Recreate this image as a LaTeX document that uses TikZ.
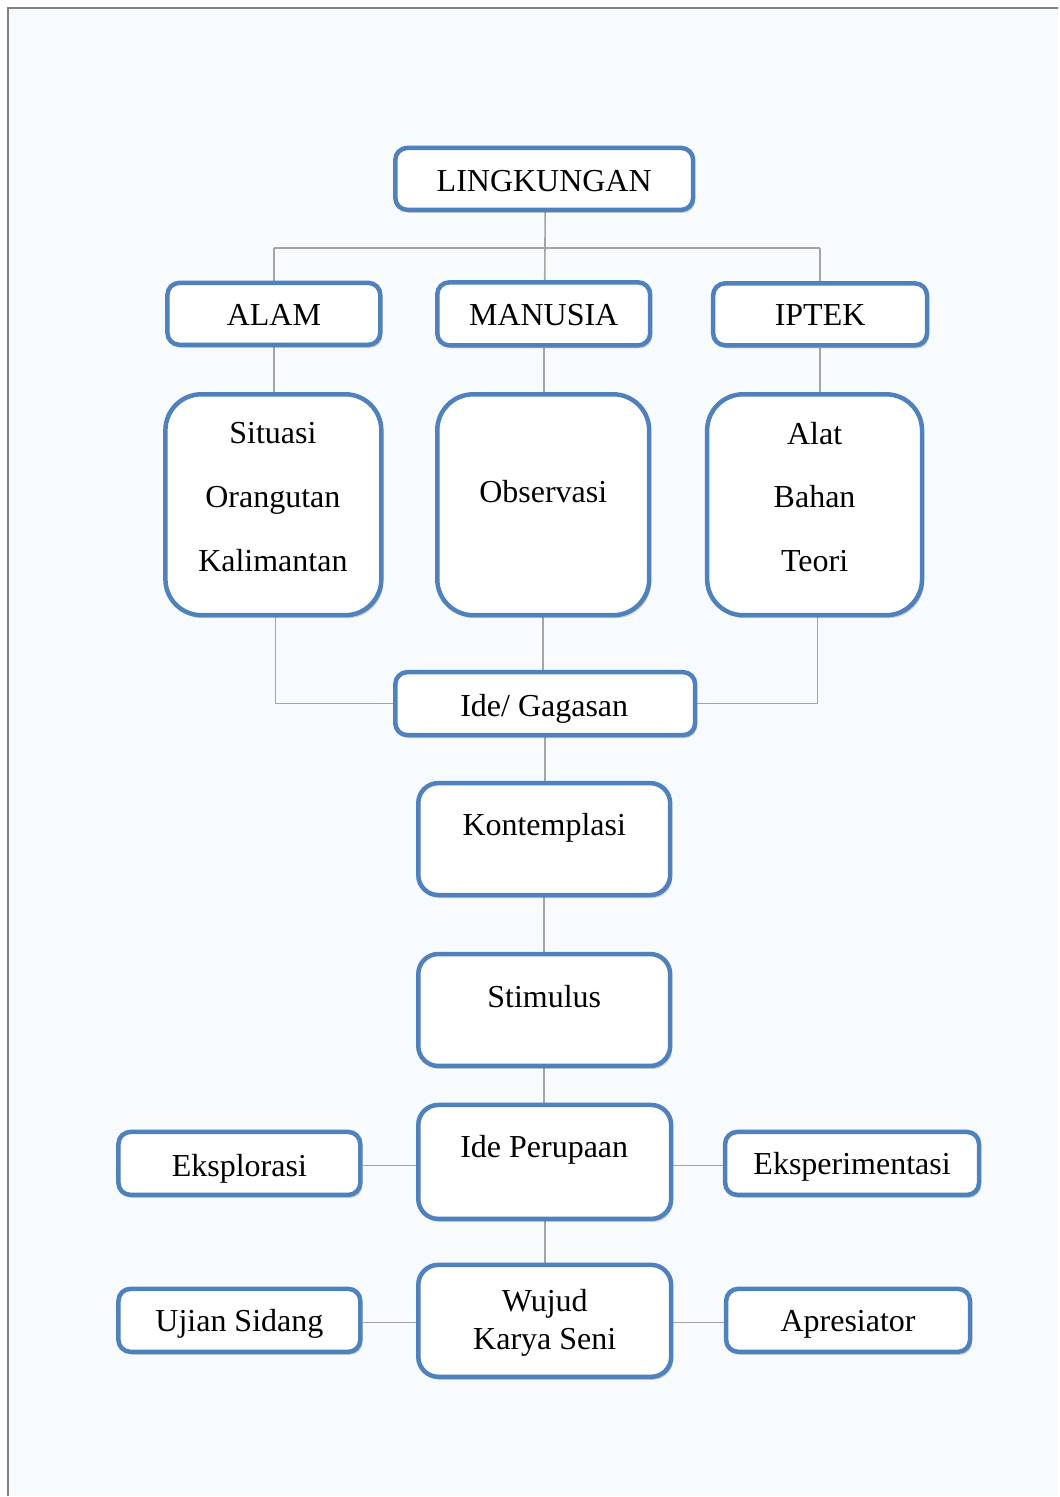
\documentclass[tikz,border=0pt]{standalone}
\usepackage{fontspec}
\setmainfont{Liberation Serif}
\usetikzlibrary{shadows,backgrounds}
\definecolor{boxblue}{RGB}{79,129,189}
\definecolor{linegray}{RGB}{165,165,165}
\definecolor{pagebg}{RGB}{248,251,253}
\definecolor{pageline}{RGB}{128,128,128}
\tikzset{
  box/.style={draw=boxblue, line width=4.5pt, fill=white, rounded corners=12pt,
    inner sep=0pt, drop shadow={shadow xshift=2pt, shadow yshift=-3pt, fill=black, opacity=0.18}},
  tallbox/.style={box, rounded corners=20pt},
  bigbox/.style={box, rounded corners=36pt},
  lbl/.style={anchor=base, inner sep=0pt, font=\fontsize{32}{38}\selectfont},
  conn/.style={draw=linegray, line width=1.6pt}
}
\begin{document}
\begin{tikzpicture}[x=1pt,y=-1pt]
\begin{pgfonlayer}{background}
  \fill[white] (0,0) rectangle (1059,1497);
  \fill[pagebg] (8,8) rectangle (1059,1497);
  \draw[pageline, line width=1.5pt] (8,1497) -- (8,8) -- (1059,8);
\end{pgfonlayer}
\useasboundingbox (0,0) rectangle (1059,1497);

% boxes
\node[box, minimum width=298pt, minimum height=62pt] (ling) at (544.5,179) {};
\node[box, minimum width=213pt, minimum height=62pt] (alam) at (274,314) {};
\node[box, minimum width=213pt, minimum height=63pt] (manusia) at (544,314) {};
\node[box, minimum width=214pt, minimum height=62pt] (iptek) at (820.5,314.5) {};
\node[bigbox, minimum width=216pt, minimum height=221pt] (situasi) at (273.5,505) {};
\node[bigbox, minimum width=212pt, minimum height=221pt] (observasi) at (543.5,505) {};
\node[bigbox, minimum width=215pt, minimum height=221pt] (alat) at (815,505) {};
\node[box, minimum width=300pt, minimum height=63pt] (ide) at (545.5,704) {};
\node[tallbox, minimum width=252pt, minimum height=112pt] (kontemplasi) at (544.5,839.5) {};
\node[tallbox, minimum width=252pt, minimum height=112pt] (stimulus) at (544.5,1010.5) {};
\node[tallbox, minimum width=253pt, minimum height=114pt] (ideper) at (545,1162.5) {};
\node[box, minimum width=242pt, minimum height=63pt] (eksplorasi) at (239.5,1164) {};
\node[box, minimum width=254pt, minimum height=63pt] (eksper) at (852.5,1164) {};
\node[tallbox, minimum width=253pt, minimum height=112pt] (wujud) at (545,1321.5) {};
\node[box, minimum width=242pt, minimum height=63pt] (ujian) at (239.5,1321) {};
\node[box, minimum width=244pt, minimum height=63pt] (apres) at (848.5,1321) {};

% labels
\node[lbl] (tling) at (544.5,192) {LINGKUNGAN};
\node[lbl] (talam) at (274,326) {ALAM};
\node[lbl] (tmanusia) at (544,326) {MANUSIA};
\node[lbl] (tiptek) at (820.5,326) {IPTEK};
\node[lbl] (tsit1) at (273,444) {Situasi};
\node[lbl] (tsit2) at (273,508) {Orangutan};
\node[lbl] (tsit3) at (273,572) {Kalimantan};
\node[lbl] (tobs) at (543.5,503) {Observasi};
\node[lbl] (talat1) at (815,445) {Alat};
\node[lbl] (talat2) at (815,508) {Bahan};
\node[lbl] (talat3) at (815,572) {Teori};
\node[lbl] (tide) at (544.5,717) {Ide/ Gagasan};
\node[lbl] (tkont) at (544.5,836) {Kontemplasi};
\node[lbl] (tstim) at (544.5,1008) {Stimulus};
\node[lbl] (tideper) at (544.5,1158) {Ide Perupaan};
\node[lbl] (teksp) at (239.5,1177) {Eksplorasi};
\node[lbl] (teksper) at (852.5,1175) {Eksperimentasi};
\node[lbl] (twujud1) at (545,1312) {Wujud};
\node[lbl] (twujud2) at (545,1350) {Karya Seni};
\node[lbl] (tujian) at (239.5,1332) {Ujian Sidang};
\node[lbl] (tapres) at (848.5,1332) {Apresiator};

% connectors
\coordinate (jtop) at (545,248);
\begin{pgfonlayer}{background}
  \draw[conn] ([xshift=1pt]ling.south) -- ([xshift=1pt]manusia.north);
  \draw[conn] (alam.north |- jtop) -- (iptek.north |- jtop);
  \draw[conn] (alam.north |- jtop) -- (alam.north);
  \draw[conn] (iptek.north |- jtop) -- (iptek.north);
  \draw[conn] (alam.south) -- (alam.south |- situasi.north);
  \draw[conn] (manusia.south) -- (manusia.south |- observasi.north);
  \draw[conn] (iptek.south) -- (iptek.south |- alat.north);
  \draw[conn] ([xshift=2pt]situasi.south) |- (ide.west);
  \draw[conn] ([xshift=3pt]alat.south) |- (ide.east);
  \draw[conn] (observasi.south) -- (observasi.south |- ide.north);
  \draw[conn] (ide.south) -- (ide.south |- kontemplasi.north);
  \draw[conn] (kontemplasi.south) -- (kontemplasi.south |- stimulus.north);
  \draw[conn] (stimulus.south) -- (stimulus.south |- ideper.north);
  \draw[conn] (ideper.south) -- (ideper.south |- wujud.north);
  \draw[conn] ([yshift=-2pt]eksplorasi.east) -- ([yshift=-2pt]eksplorasi.east -| ideper.west);
  \draw[conn] ([yshift=-2pt]eksper.west) -- ([yshift=-2pt]eksper.west -| ideper.east);
  \draw[conn] ([yshift=-2pt]ujian.east) -- ([yshift=-2pt]ujian.east -| wujud.west);
  \draw[conn] ([yshift=-2pt]apres.west) -- ([yshift=-2pt]apres.west -| wujud.east);
\end{pgfonlayer}
\end{tikzpicture}
\end{document}
